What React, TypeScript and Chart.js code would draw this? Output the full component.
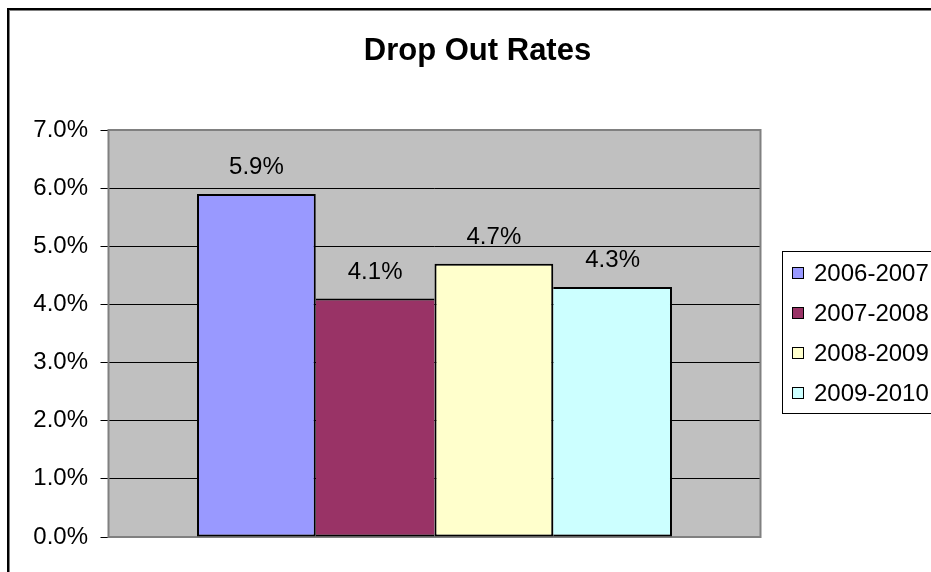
import React, { useEffect, useRef } from "react";
import { Chart, registerables } from "chart.js";

Chart.register(...registerables);

const chartTitle = "Drop Out Rates";
const categories = [""];
const seriesLabels = ["2006-2007", "2007-2008", "2008-2009", "2009-2010"];
const seriesValues = [5.9, 4.1, 4.7, 4.3];
const seriesColors = ["#9999FF", "#993366", "#FFFFCC", "#CCFFFF"];
const yTickValues = [0, 1, 2, 3, 4, 5, 6, 7];

const FONT = "'Liberation Sans', Arial, sans-serif";

const fmt = (v: number) => `${v.toFixed(1)}%`;

const decor = {
  id: "decor",
  beforeDraw(chart: any) {
    const { ctx, chartArea: a } = chart;
    ctx.save();
    ctx.fillStyle = "#FFFFFF";
    ctx.fillRect(0, 0, chart.width, chart.height);
    ctx.fillStyle = "#C0C0C0";
    ctx.fillRect(a.left, a.top, a.right - a.left, a.bottom - a.top);
    ctx.restore();
  },
  beforeDatasetsDraw(chart: any) {
    const { ctx, chartArea: a } = chart;
    ctx.save();
    ctx.strokeStyle = "#808080";
    ctx.lineWidth = 2;
    ctx.strokeRect(a.left, a.top, a.right - a.left, a.bottom - a.top);
    ctx.restore();
  },
  afterDraw(chart: any) {
    const { ctx } = chart;
    ctx.save();
    // data labels
    ctx.fillStyle = "#000";
    ctx.font = `24px ${FONT}`;
    ctx.textAlign = "center";
    ctx.textBaseline = "alphabetic";
    chart.data.datasets.forEach((ds: any, i: number) => {
      const meta = chart.getDatasetMeta(i);
      meta.data.forEach((el: any, j: number) => {
        ctx.fillText(fmt(ds.data[j]), el.x, el.y - 20);
      });
    });
    // title
    ctx.font = `bold 31px ${FONT}`;
    ctx.fillText(chartTitle, 477.5, 60);
    // legend
    const lx = 782, ly = 251;
    ctx.fillStyle = "#FFFFFF";
    ctx.fillRect(lx, ly, 200, 162);
    ctx.strokeStyle = "#000";
    ctx.lineWidth = 1;
    ctx.strokeRect(lx + 0.5, ly + 0.5, 200, 162);
    ctx.textAlign = "left";
    ctx.textBaseline = "middle";
    ctx.font = `24px ${FONT}`;
    chart.data.datasets.forEach((ds: any, i: number) => {
      const cy = 273 + i * 40;
      ctx.fillStyle = ds.backgroundColor;
      ctx.fillRect(792, cy - 6, 12, 12);
      ctx.strokeStyle = "#000";
      ctx.strokeRect(792.5, cy - 5.5, 11, 11);
      ctx.fillStyle = "#000";
      ctx.fillText(ds.label, 814, cy + 1);
    });
    // outer chart border
    ctx.fillStyle = "#000";
    ctx.fillRect(7, 8, chart.width, 2);
    ctx.fillRect(7, 8, 2, chart.height);
    ctx.fillStyle = "#808080";
    ctx.fillRect(9, 10, chart.width, 1);
    ctx.fillRect(9, 10, 1, chart.height);
    ctx.restore();
  },
};

const borderWidths = [
  { top: 2, bottom: 2, left: 2, right: 2 },
  { top: 2, bottom: 2, left: 0, right: 0 },
  { top: 2, bottom: 2, left: 2, right: 2 },
  { top: 2, bottom: 2, left: 0, right: 2 },
];

export default function App() {
  const ref = useRef<HTMLCanvasElement | null>(null);
  useEffect(() => {
    if (!ref.current) return;
    const chart = new Chart(ref.current, {
      type: "bar",
      data: {
        labels: categories,
        datasets: seriesLabels.map((label, i) => ({
          label,
          data: [seriesValues[i]],
          backgroundColor: seriesColors[i],
          borderColor: "#000000",
          borderWidth: borderWidths[i] as any,
          borderSkipped: false as any,
          categoryPercentage: 0.7285,
          barPercentage: 1,
        })),
      },
      options: {
        animation: false,
        responsive: false,
        devicePixelRatio: 1,
        layout: { padding: { left: 0, right: 170.5, top: 130, bottom: 35 } },
        plugins: {
          legend: { display: false },
          title: { display: false },
          tooltip: { enabled: false },
        },
        scales: {
          x: { display: false },
          y: {
            min: 0,
            max: 7,
            afterFit: (s: any) => {
              s.width = 108.5;
            },
            afterBuildTicks: (s: any) => {
              s.ticks = yTickValues.map((v) => ({ value: v }));
            },
            border: { display: false },
            grid: {
              color: "#000000",
              lineWidth: 1,
              drawTicks: true,
              tickLength: 8,
              tickColor: "#000000",
            },
            ticks: {
              padding: 12.5,
              color: "#000000",
              font: { family: FONT, size: 24 },
              callback: (v: any) => fmt(Number(v)),
            },
          },
        },
      },
      plugins: [decor],
    });
    return () => chart.destroy();
  }, []);
  return (
    <div style={{ position: "absolute", left: 0, top: 0, width: 931, height: 572 }}>
      <canvas ref={ref} width={931} height={572} style={{ display: "block" }} />
    </div>
  );
}
